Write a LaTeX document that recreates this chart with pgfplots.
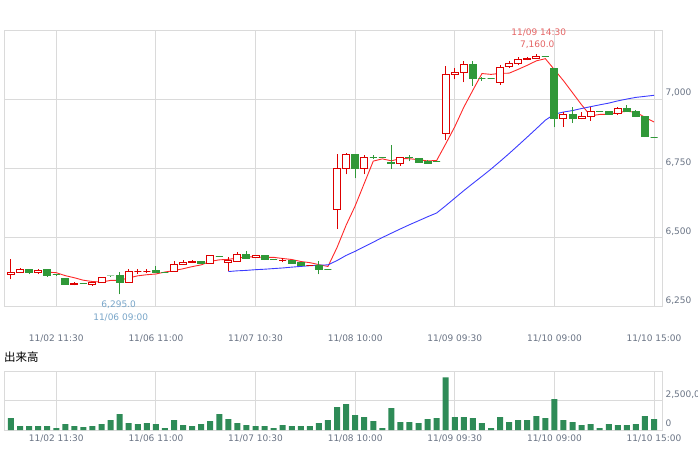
\documentclass[border=0pt]{standalone}
\usepackage{pgfplots}
\pgfplotsset{compat=1.18}
\usepackage{pgfplotstable}
\usepackage{fontspec}
\setmainfont{DejaVu Sans}
\newfontfamily\cjk{Noto Sans CJK JP}
\definecolor{cred}{RGB}{221,0,0}
\definecolor{cgreen}{RGB}{48,152,56}
\definecolor{vgreen}{RGB}{46,139,87}
\definecolor{mared}{RGB}{255,40,40}
\definecolor{mablue}{RGB}{60,60,255}
\definecolor{gridc}{RGB}{218,218,218}
\definecolor{tickc}{RGB}{105,115,132}
\definecolor{maxc}{RGB}{228,100,100}
\definecolor{minc}{RGB}{120,165,200}

\newdimen\cbA \newdimen\cbB \newdimen\cbC
\makeatletter
\pgfdeclareplotmark{candle}{%
  \pgf@process{\pgfplotspointaxisdirectionxy{0}{\candL}}\cbA=\pgf@y
  \pgf@process{\pgfplotspointaxisdirectionxy{0}{\candH}}\cbB=\pgf@y
  \pgf@process{\pgfplotspointaxisdirectionxy{0}{\candC}}\cbC=\pgf@y
  \pgfpathmoveto{\pgfqpoint{0pt}{\cbA}}%
  \pgfpathlineto{\pgfqpoint{0pt}{\cbB}}%
  \pgfusepathqstroke
  \pgfpathrectangle{\pgfqpoint{-3.5pt}{0pt}}{\pgfqpoint{7pt}{\cbC}}%
  \pgfusepathqfillstroke
}
\makeatother

\pgfplotstableread{
x o h l c
1 6367 6421 6349 6374
2 6374 6389 6371 6385
4 6373 6385 6368 6380
8 6331 6340 6327 6335
10 6331 6340 6325 6339
11 6338 6357 6337 6356
14 6338 6385 6336 6378
15 6376 6385 6368 6376
16 6376 6385 6370 6376
19 6378 6415 6376 6403
20 6403 6419 6402 6410
21 6410 6417 6409 6414
23 6407 6437 6406 6436
25 6410 6431 6379 6418
26 6414 6447 6413 6439
28 6429 6437 6428 6436
31 6418 6425 6410 6418
34 6400 6401 6399 6400
37 6600 6802 6530 6750
38 6750 6804 6728 6801
40 6750 6797 6728 6790
44 6768 6791 6760 6790
49 6877 7120 6852 7090
50 7090 7112 7072 7097
51 7097 7137 7061 7126
55 7061 7123 7052 7115
56 7119 7137 7112 7130
57 7130 7151 7123 7144
58 7144 7151 7140 7148
59 7148 7162 7146 7155
62 6931 6953 6900 6945
64 6931 6953 6927 6936
65 6939 6973 6922 6956
68 6950 6973 6943 6967
}\redcandles

\pgfplotstableread{
x o h l c
3 6385 6386 6368 6373
5 6383 6384 6358 6362
6 6365 6366 6364 6365
7 6353 6354 6330 6331
9 6335 6336 6334 6335
12 6361 6362 6360 6361
13 6361 6376 6295 6338
17 6380 6397 6373 6373
18 6374 6375 6373 6374
22 6415 6416 6404 6405
24 6432 6433 6431 6432
27 6439 6451 6424 6425
29 6436 6437 6418 6421
30 6421 6422 6420 6421
32 6418 6419 6406 6407
33 6410 6411 6399 6400
35 6400 6414 6367 6385
36 6385 6386 6384 6385
39 6801 6802 6714 6750
41 6790 6797 6783 6790
42 6790 6791 6789 6790
43 6772 6833 6747 6766
45 6790 6797 6775 6788
46 6786 6787 6771 6772
47 6775 6779 6766 6768
48 6775 6776 6774 6775
52 7127 7137 7049 7075
53 7075 7081 7067 7075
54 7075 7076 7074 7075
60 7155 7156 7154 7155
61 7112 7113 6898 6931
63 6945 6973 6913 6931
66 6956 6957 6955 6956
67 6956 6957 6945 6946
69 6967 6979 6955 6956
70 6956 6961 6935 6939
71 6939 6940 6863 6864
72 6862 6863 6861 6862
}\greencandles

\pgfplotstableread{
x y
5 6374.8
6 6373.0
7 6362.2
8 6354.6
9 6345.6
10 6341.0
11 6339.2
12 6345.0
13 6345.6
14 6354.2
15 6361.6
16 6365.6
17 6368.2
18 6375.4
19 6380.4
20 6387.2
21 6394.8
22 6401.2
23 6413.6
24 6419.4
25 6421.0
26 6426.0
27 6430.0
28 6430.0
29 6427.8
30 6428.4
31 6424.2
32 6420.6
33 6413.4
34 6409.2
35 6402.0
36 6395.4
37 6464.0
38 6544.2
39 6614.2
40 6695.2
41 6776.2
42 6784.2
43 6777.2
44 6785.2
45 6784.8
46 6781.2
47 6776.8
48 6778.6
49 6838.6
50 6900.4
51 6971.2
52 7032.6
53 7092.6
54 7089.6
55 7093.2
56 7094.0
57 7107.8
58 7122.4
59 7138.4
60 7146.4
61 7106.6
62 7066.8
63 7023.4
64 6979.6
65 6939.8
66 6944.8
67 6945.0
68 6952.2
69 6956.2
70 6952.8
71 6934.4
72 6917.6
}\mafive

\pgfplotstableread{
x y
25 6377.1
26 6379.7
27 6381.3
28 6383.8
29 6385.5
30 6387.8
31 6390.0
32 6393.0
33 6395.6
34 6398.2
35 6400.0
36 6401.2
37 6416.8
38 6435.3
39 6450.2
40 6466.8
41 6483.3
42 6500.0
43 6515.7
44 6531.2
45 6546.3
46 6560.6
47 6575.1
48 6588.7
49 6615.0
50 6642.2
51 6669.6
52 6695.6
53 6721.2
54 6747.4
55 6775.1
56 6803.6
57 6833.1
58 6863.0
59 6893.2
60 6924.0
61 6945.8
62 6953.6
63 6958.8
64 6966.3
65 6972.9
66 6979.6
67 6985.8
68 6993.8
69 7000.5
70 7006.5
71 7010.2
72 7014.0
}\matwentyfive

\pgfplotstableread{
x v
1 1023
2 340
3 340
4 340
5 340
6 170
7 511
8 340
9 255
10 340
11 511
12 852
13 1364
14 597
15 511
16 597
17 511
18 170
19 852
20 426
21 340
22 511
23 767
24 1364
25 938
26 597
27 426
28 340
29 340
30 170
31 426
32 340
33 340
34 340
35 597
36 852
37 1960
38 2216
39 1278
40 1108
41 767
42 170
43 1875
44 682
45 682
46 597
47 938
48 1023
49 4517
50 1108
51 1108
52 1023
53 597
54 170
55 1108
56 682
57 852
58 852
59 1193
60 1023
61 2642
62 852
63 682
64 426
65 511
66 170
67 511
68 426
69 426
70 511
71 1193
72 938
}\volume

\begin{document}
\begin{tikzpicture}
\pgfplotsset{
  candlestyle/.style={
    scatter, only marks, mark=candle,
    scatter/@pre marker code/.code={\pgfscope},
    scatter/@post marker code/.code={\endpgfscope},
    line width=1pt,
    visualization depends on={\thisrow{l}-\thisrow{o} \as \candL},
    visualization depends on={\thisrow{h}-\thisrow{o} \as \candH},
    visualization depends on={\thisrow{c}-\thisrow{o} \as \candC},
  },
  common/.style={
    scale only axis, width=658pt,
    xmin=0.23, xmax=72.88,
    axis line style={draw=gridc, line width=0.8pt},
    grid=major, major grid style={draw=gridc, line width=0.8pt},
    major tick length=0pt,
    xtick={6,17,28,39,50,61,72},
    xticklabels={11/02 11:30,11/06 11:00,11/07 10:30,11/08 10:00,11/09 09:30,11/10 09:00,11/10 15:00},
    tick label style={font=\fontsize{9}{10}\selectfont, text=tickc},
    yticklabel pos=right,
    yticklabel style={anchor=base west, yshift=3.2pt},
    clip=false,
  },
}
\begin{axis}[common,
  at={(4pt,141.3pt)}, anchor=south west, height=276.7pt,
  ymin=6250, ymax=7250,
  ytick={6250,6500,6750,7000},
  yticklabels={{6,250},{6,500},{6,750},{7,000}},
  xticklabel style={anchor=base, yshift=-34.6pt},
]
\addplot[candlestyle, draw=cred, fill=white] table[x=x, y=o] {\redcandles};
\addplot[candlestyle, draw=cgreen, fill=cgreen] table[x=x, y=o] {\greencandles};
\addplot[mared, line width=0.9pt, no markers] table[x=x, y=y] {\mafive};
\addplot[mablue, line width=0.9pt, no markers] table[x=x, y=y] {\matwentyfive};
\node[anchor=base, text=maxc, font=\fontsize{9}{10}\selectfont, yshift=6.8pt, xshift=1pt] at (axis cs:59,7162) {7,160.0};
\node[anchor=base, text=maxc, font=\fontsize{9}{10}\selectfont, yshift=19.3pt, xshift=2.5pt] at (axis cs:59,7162) {11/09 14:30};
\node[anchor=base, text=minc, font=\fontsize{9}{10}\selectfont, yshift=-13pt, xshift=-1pt] at (axis cs:13,6295) {6,295.0};
\node[anchor=base, text=minc, font=\fontsize{9}{10}\selectfont, yshift=-26pt, xshift=1pt] at (axis cs:13,6295) {11/06 09:00};
\end{axis}
\begin{axis}[common,
  at={(4pt,18pt)}, anchor=south west, height=58.3pt,
  ymin=0, ymax=5000,
  ytick={0,2500},
  yticklabels={0,{2,500,000}},
  xticklabel style={anchor=base, yshift=-11.3pt},
]
\addplot[ybar, bar width=6pt, bar shift=0pt, fill=vgreen, draw=none] table[x=x, y=v] {\volume};
\end{axis}
\node[anchor=west, inner sep=0pt, font=\cjk\fontsize{11.5}{13}\selectfont] at (4pt,91pt) {出来高};
\pgfresetboundingbox
\useasboundingbox (0,0) rectangle (698pt,448pt);
\end{tikzpicture}
\end{document}
